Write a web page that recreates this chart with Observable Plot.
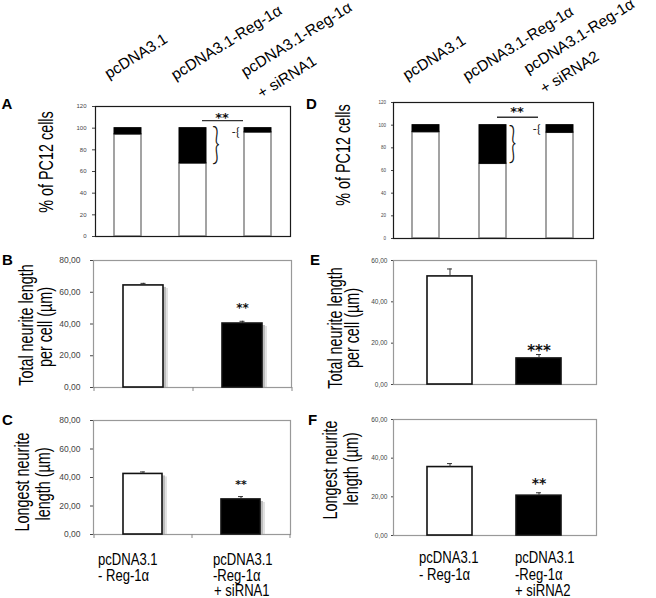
<!DOCTYPE html>
<html>
<head>
<meta charset="utf-8">
<script src="https://cdn.jsdelivr.net/npm/d3@7"></script>
<script src="https://cdn.jsdelivr.net/npm/@observablehq/plot@0.6"></script>
<style>
html, body { margin: 0; padding: 0; background: #fff; }
#fig { position: relative; width: 656px; height: 598px; overflow: hidden; background: #fff; }
.panel { position: absolute; }
#overlay { position: absolute; left: 0; top: 0; pointer-events: none; }
</style>
</head>
<body>
<div id="fig"></div>
<script>
// ---------------- DATA ----------------
// Panel A / D : % of PC12 cells (white = lower part, black = upper part of each stacked bar)
const groupsA = ["pcDNA3.1", "pcDNA3.1-Reg-1α", "pcDNA3.1-Reg-1α + siRNA1"];
const whiteA = [94.2, 67.4, 96.0];
const blackA = [5.8, 32.6, 4.0];
const groupsD = ["pcDNA3.1", "pcDNA3.1-Reg-1α", "pcDNA3.1-Reg-1α + siRNA2"];
const whiteD = [93.8, 65.9, 93.3];
const blackD = [6.2, 34.1, 6.7];
const ticksPct = [0, 20, 40, 60, 80, 100, 120];
const sigLabelAD = "**";
const sigLevelAD = 107;

// Panels B, C (siRNA1) and E, F (siRNA2)
const groupsBC = ["pcDNA3.1 - Reg-1α", "pcDNA3.1 -Reg-1α + siRNA1"];
const groupsEF = ["pcDNA3.1 - Reg-1α", "pcDNA3.1 -Reg-1α + siRNA2"];
const totalB = [64.3, 40.3];
const totalBErr = [1.3, 1.4];
const starsB = ["", "**"];
const longestC = [42.5, 24.6];
const longestCErr = [1.4, 2.0];
const starsC = ["", "**"];
const totalE = [52.3, 12.6];
const totalEErr = [3.6, 1.9];
const starsE = ["", "***"];
const longestF = [35.4, 20.6];
const longestFErr = [1.8, 1.5];
const starsF = ["", "**"];
const ticks80 = [0, 20, 40, 60, 80];
const ticks60 = [0, 20, 40, 60];

// Text
const panelLetters = ["A", "B", "C", "D", "E", "F"];
const titlePct = "% of PC12 cells";
const titleTotal = ["Total neurite length", "per cell (µm)"];
const titleLongest = ["Longest neurite", "length (µm)"];
const bottomLeft = [["pcDNA3.1", "- Reg-1α"], ["pcDNA3.1", "-Reg-1α", "+ siRNA1"]];
const bottomRight = [["pcDNA3.1", "- Reg-1α"], ["pcDNA3.1", "-Reg-1α", "+ siRNA2"]];

// ---------------- HELPERS ----------------
const FONT = "'Liberation Sans', Arial, Helvetica, sans-serif";
const fig = document.getElementById("fig");
const fmtComma = d => d3.format(".2f")(d).replace(".", ",");
const LABEL_ANGLE = -32;
const rotatedLabels = []; // filled by the A / D panels, drawn in the overlay

function place(svg, left, top) {
  const div = document.createElement("div");
  div.className = "panel";
  div.style.left = left + "px";
  div.style.top = top + "px";
  div.appendChild(svg);
  fig.appendChild(div);
}

function baseOptions(cfg, yDomain, ticks, fmt) {
  return {
    width: cfg.w, height: cfg.h,
    marginLeft: cfg.m[0], marginRight: cfg.m[1], marginTop: cfg.m[2], marginBottom: cfg.m[3],
    style: {background: "transparent", fontFamily: FONT, fontSize: cfg.tickFont + "px", color: "#444", overflow: "visible"},
    x: {domain: cfg.groups, paddingInner: cfg.pad[0], paddingOuter: cfg.pad[1], axis: null},
    y: {domain: yDomain, ticks: ticks, tickSize: cfg.tickSize, tickPadding: cfg.tickPadding, tickFormat: fmt, label: null},
    color: {type: "identity"}
  };
}

// rebuild Plot's x band scale so positions outside the marks can use it
function bandOf(svg) {
  const s = svg.scale("x");
  const sc = d3.scaleBand().domain(s.domain).range(s.range)
    .paddingInner(s.paddingInner ?? 0).paddingOuter(s.paddingOuter ?? 0)
    .align(s.align ?? 0.5).round(!!s.round);
  const bw = s.bandwidth ?? sc.bandwidth();
  const step = s.step ?? sc.step();
  return {center: g => sc(g) + sc.bandwidth() / 2, bw, step};
}

function probeX(opts, groups) {
  const p = Plot.plot({...opts, marks: [Plot.barY(groups.map(g => ({g, v: 1})), {x: "g", y: "v"})]});
  return bandOf(p);
}

// ---------------- STACKED PANELS (A, D) ----------------
function stackedPanel(cfg) {
  const rows = cfg.groups.map((g, i) => ({g, white: cfg.white[i], top: cfg.white[i] + cfg.black[i]}));
  const opts = baseOptions(cfg, [0, 120], ticksPct, d => String(d));
  const sig = {from: cfg.groups[1], to: cfg.groups[2], y: sigLevelAD, label: sigLabelAD};
  const brace = {g: rows[1].g, from: rows[1].white, to: rows[1].top};
  const brace2 = {g: rows[2].g, from: rows[2].white, to: rows[2].top};
  const marks = [
    Plot.barY(rows, {x: "g", y1: 0, y2: "white", fill: "white", stroke: "#8c8c8c", strokeWidth: 1.6}),
    Plot.barY(rows, {x: "g", y1: "white", y2: "top", fill: "#000", stroke: "#000", strokeWidth: 1}),
    Plot.frame({stroke: "#1a1a1a", strokeWidth: 1.2}),
    Plot.ruleY([sig], {x1: "from", x2: "to", y: "y", insetLeft: cfg.sigInset[0], insetRight: cfg.sigInset[1], stroke: "#333", strokeWidth: 1.3}),
    Plot.text([sig], {x: "from", y: "y", text: "label", dx: cfg.starDx, dy: cfg.starDy, fontSize: 13, fontWeight: "bold", fontFamily: "DejaVu Sans", fill: "#111"}),
    Plot.text([brace], {x: "g", y: d => (d.from + d.to) / 2, text: () => "}", fontSize: 42.5, dx: cfg.braceDx, dy: cfg.braceDy, fill: "#111", fontFamily: "Lato", fontWeight: 300}),
    Plot.text([brace2], {x: "g", y: d => (d.from + d.to) / 2, text: () => "-{", fontSize: 12, dx: cfg.smallDx, dy: cfg.smallDy, fill: "#111", fontFamily: "Lato", fontWeight: 400})
  ];
  const svg = Plot.plot({...opts, marks});
  d3.select(svg).selectAll("text").filter(function () { return this.textContent === "}"; })
    .attr("textLength", 8).attr("lengthAdjust", "spacingAndGlyphs");
  place(svg, cfg.left, cfg.top);

  // rotated category labels, anchored on the band centres of Plot's x scale
  const band = bandOf(svg);
  const yTopPx = cfg.top + cfg.m[2];
  cfg.groups.forEach((g, i) => {
    const parts = g.split(" + ");
    const cx = cfg.left + band.center(g);
    rotatedLabels.push({text: parts[0], x: cx + cfg.lab[i][0], y: yTopPx + cfg.lab[i][1]});
    if (parts[1]) rotatedLabels.push({text: "+ " + parts[1], x: cx + cfg.lab2[0], y: yTopPx + cfg.lab2[1]});
  });
}

// ---------------- BAR PANELS (B, C, E, F) ----------------
function barPanel(cfg) {
  const rows = cfg.groups.map((g, i) => ({g, v: cfg.values[i], hi: cfg.values[i] + cfg.errs[i], s: cfg.stars[i]}));
  const barFills = ["white", "black"];
  const opts = baseOptions(cfg, [0, cfg.ymax], cfg.ticks, fmtComma);
  const {bw, step} = probeX(opts, cfg.groups);
  const marks = [];
  if (cfg.shadow) {
    marks.push(Plot.barY(rows, {x: "g", y1: 0, y2: "v", fill: "#e2e2e2", dx: 5, dy: 3, insetBottom: 3}));
    marks.push(Plot.barY(rows, {x: "g", y1: 0, y2: "v", fill: "#bdbdbd", dx: 3, dy: 2, insetBottom: 2}));
  }
  marks.push(Plot.frame({stroke: "#999", strokeWidth: 1.2}));
  if (cfg.boundaryTicks) {
    marks.push(Plot.ruleX(rows, {x: "g", y1: 0, y2: 0, dx: step / 2, insetBottom: -4, stroke: "#888"}));
    marks.push(Plot.ruleX(rows.slice(0, 1), {x: "g", y1: 0, y2: 0, dx: -step / 2, insetBottom: -4, stroke: "#888"}));
  }
  marks.push(Plot.barY(rows, {x: "g", y1: 0, y2: "v", fill: (d, i) => barFills[i], stroke: "#111", strokeWidth: 1.6}));
  marks.push(Plot.ruleX(rows, {x: "g", y1: "v", y2: "hi", stroke: "#333", strokeWidth: 1}));
  marks.push(Plot.tickY(rows, {x: "g", y: "hi", insetLeft: bw / 2 - 2.5, insetRight: bw / 2 - 2.5, stroke: "#333", strokeWidth: 1}));
  marks.push(Plot.text(rows, {x: "g", y: "hi", text: "s", dy: cfg.starDy, fontSize: cfg.starFont, fontWeight: "bold", fontFamily: "DejaVu Sans", fill: "#111"}));
  const svg = Plot.plot({...opts, marks});
  place(svg, cfg.left, cfg.top);
}

stackedPanel({
  groups: groupsA, white: whiteA, black: blackA,
  left: 60, top: 95, w: 240, h: 150, m: [35, 10, 11, 9], pad: [0.585, 0.2925],
  tickFont: 6, tickSize: 3, tickPadding: 6,
  sigInset: [23, 28], starDx: 29, starDy: -3,
  braceDx: 23, braceDy: 0, smallDx: -22.5, smallDy: 1.5,
  lab: [[-18.8, -26.8], [-17.2, -25.5], [-12.2, -28.8]], lab2: [4.1, -7.3]
});

stackedPanel({
  groups: groupsD, white: whiteD, black: blackD,
  left: 360, top: 95, w: 245, h: 150, m: [33, 12, 7, 7], pad: [0.597, 0.284],
  tickFont: 4.5, tickSize: 2, tickPadding: 5.5,
  sigInset: [18, 35], starDx: 24, starDy: -5.7,
  braceDx: 19.5, braceDy: 0, smallDx: -23.5, smallDy: 0,
  lab: [[-18.5, -21.5], [-25.5, -20.5], [-31.5, -28]], lab2: [-15.3, -7.9]
});

barPanel({
  groups: groupsBC, values: totalB, errs: totalBErr, stars: starsB, ymax: 80, ticks: ticks80,
  left: 55, top: 250, w: 245, h: 145, m: [38, 9, 10, 8], pad: [0.6, 0.3],
  tickFont: 8.5, tickSize: 3, tickPadding: 10, shadow: true, boundaryTicks: true,
  starFont: 12, starDy: -12.8
});

barPanel({
  groups: groupsBC, values: longestC, errs: longestCErr, stars: starsC, ymax: 80, ticks: ticks80,
  left: 55, top: 410, w: 245, h: 135, m: [38, 10, 10, 11], pad: [0.6, 0.3],
  tickFont: 8.5, tickSize: 3, tickPadding: 10, shadow: true, boundaryTicks: true,
  starFont: 11, starDy: -11.8
});

barPanel({
  groups: groupsEF, values: totalE, errs: totalEErr, stars: starsE, ymax: 60, ticks: ticks60,
  left: 350, top: 250, w: 255, h: 145, m: [43, 9, 10, 11], pad: [0.49, 0.38],
  tickFont: 6.5, tickSize: 2, tickPadding: 4, shadow: false, boundaryTicks: false,
  starFont: 15, starDy: -3.8
});

barPanel({
  groups: groupsEF, values: longestF, errs: longestFErr, stars: starsF, ymax: 60, ticks: ticks60,
  left: 350, top: 410, w: 255, h: 135, m: [43, 9, 9, 10], pad: [0.49, 0.38],
  tickFont: 6.5, tickSize: 2, tickPadding: 4, shadow: false, boundaryTicks: false,
  starFont: 14, starDy: -9.1
});

// ---------------- TEXT OVERLAY ----------------
const ov = d3.select("#fig").append("svg").attr("id", "overlay").attr("width", 656).attr("height", 598);
function txt(x, y, s, {size = 20, sx = 0.72, rotate = 0, anchor = "start", weight = "normal"} = {}) {
  ov.append("text")
    .attr("transform", `translate(${x},${y})${rotate ? ` rotate(${rotate})` : ""}${sx !== 1 ? ` scale(${sx},1)` : ""}`)
    .attr("text-anchor", anchor)
    .attr("font-family", FONT)
    .attr("font-size", size)
    .attr("font-weight", weight)
    .attr("fill", "#000")
    .text(s);
}

// slanted category labels above panels A and D
rotatedLabels.forEach(d => txt(d.x, d.y, d.text, {size: 15.5, sx: 1, rotate: LABEL_ANGLE}));

// panel letters
const letterPos = [[1.5, 108.5], [2, 265], [2, 425], [306, 109], [310, 265], [308, 425]];
panelLetters.forEach((L, i) => txt(letterPos[i][0], letterPos[i][1], L, {size: 15, sx: 1, weight: "bold"}));

// y titles (rotated, condensed)
txt(53, 162, titlePct, {rotate: -90, anchor: "middle"});
txt(350, 155, titlePct, {rotate: -90, anchor: "middle"});
txt(33, 325, titleTotal[0], {rotate: -90, anchor: "middle"});
txt(52, 327, titleTotal[1], {rotate: -90, anchor: "middle"});
txt(342, 328, titleTotal[0], {rotate: -90, anchor: "middle"});
txt(359, 328, titleTotal[1], {rotate: -90, anchor: "middle"});
txt(28.5, 482, titleLongest[0], {rotate: -90, anchor: "middle"});
txt(49.5, 484, titleLongest[1], {rotate: -90, anchor: "middle"});
txt(337, 470, titleLongest[0], {rotate: -90, anchor: "middle"});
txt(357.5, 469, titleLongest[1], {rotate: -90, anchor: "middle"});

// bottom category labels
const leftCols = [98, 213], leftRows = [565, 581, 596];
bottomLeft.forEach((lines, c) => lines.forEach((s, r) => txt(leftCols[c] + (r === 2 ? 1 : 0), leftRows[r], s, {size: 17, sx: 0.77})));
const rightCols = [419, 515], rightRows = [563, 580, 596];
bottomRight.forEach((lines, c) => lines.forEach((s, r) => txt(rightCols[c], rightRows[r], s, {size: 17, sx: 0.77})));
</script>
</body>
</html>
